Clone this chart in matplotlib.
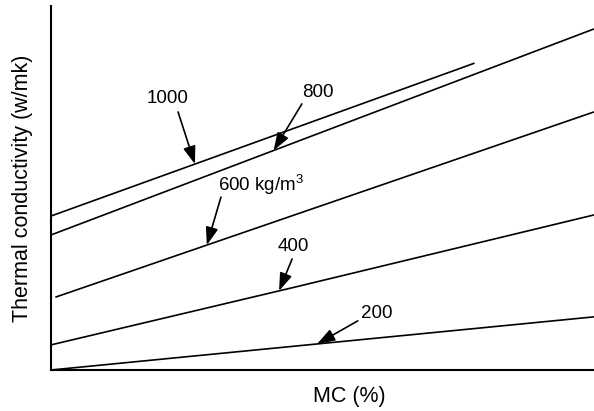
import numpy as np
import matplotlib
matplotlib.use("Agg")
import matplotlib.pyplot as plt

plt.rcParams['font.family'] = ['Liberation Sans', 'DejaVu Sans']
plt.rcParams['mathtext.fontset'] = 'custom'
plt.rcParams['mathtext.rm'] = 'Liberation Sans'
plt.rcParams['mathtext.it'] = 'Liberation Sans'
plt.rcParams['mathtext.bf'] = 'Liberation Sans:bold'

# Density curves: moisture content (%) vs relative thermal conductivity
densities = ["200", "400", "600 kg/m$^3$", "800", "1000"]
x_200 = [0, 100];    y_200 = [0.0, 0.146]
x_400 = [0, 45, 100]; y_400 = [0.069, 0.228, 0.426]
x_600 = [0.8, 100];  y_600 = [0.200, 0.709]
x_800 = [0, 100];    y_800 = [0.371, 0.937]
x_1000 = [0, 78];    y_1000 = [0.423, 0.843]

series_x = [x_200, x_400, x_600, x_800, x_1000]
series_y = [y_200, y_400, y_600, y_800, y_1000]

# arrow tip x-position on each curve, label and arrow-tail positions (data coords)
tip_x = [49.0, 42.0, 28.7, 41.0, 26.5]
label_xy = [(60.0, 0.154), (44.6, 0.338), (38.6, 0.508), (49.2, 0.761), (21.4, 0.745)]
tail_xy = [(56.5, 0.135), (44.4, 0.305), (31.3, 0.475), (46.2, 0.731), (23.4, 0.709)]

fig = plt.figure(figsize=(5.94, 4.11), dpi=100)
ax = fig.add_axes([51/594, 41/411, 543/594, 364/411])
ax.set_xlim(0, 100)
ax.set_ylim(0, 1)

for xs, ys in zip(series_x, series_y):
    ax.plot(xs, ys, color='black', lw=1.2, solid_capstyle='butt')

for lab, tx, lxy, txy, xs, ys in zip(densities, tip_x, label_xy, tail_xy, series_x, series_y):
    ty = float(np.interp(tx, xs, ys))
    ax.annotate('', xy=(tx, ty), xytext=txy,
                arrowprops=dict(arrowstyle='-|>,head_length=0.4,head_width=0.14',
                                mutation_scale=27, color='black', lw=1.2,
                                shrinkA=0, shrinkB=0))
    ax.text(lxy[0], lxy[1], lab, fontsize=13.5, ha='center', va='center')

for s in ['top', 'right']:
    ax.spines[s].set_visible(False)
for s in ['left', 'bottom']:
    ax.spines[s].set_linewidth(1.5)
ax.set_xticks([])
ax.set_yticks([])

fig.text(23/594, 1 - 188/411, 'Thermal conductivity (w/mk)', rotation=90,
         ha='center', va='center', fontsize=15.5)
fig.text(349/594, 1 - 396/411, 'MC (%)', ha='center', va='center', fontsize=15.5)

fig.savefig('out.png', dpi=100, facecolor='white')
